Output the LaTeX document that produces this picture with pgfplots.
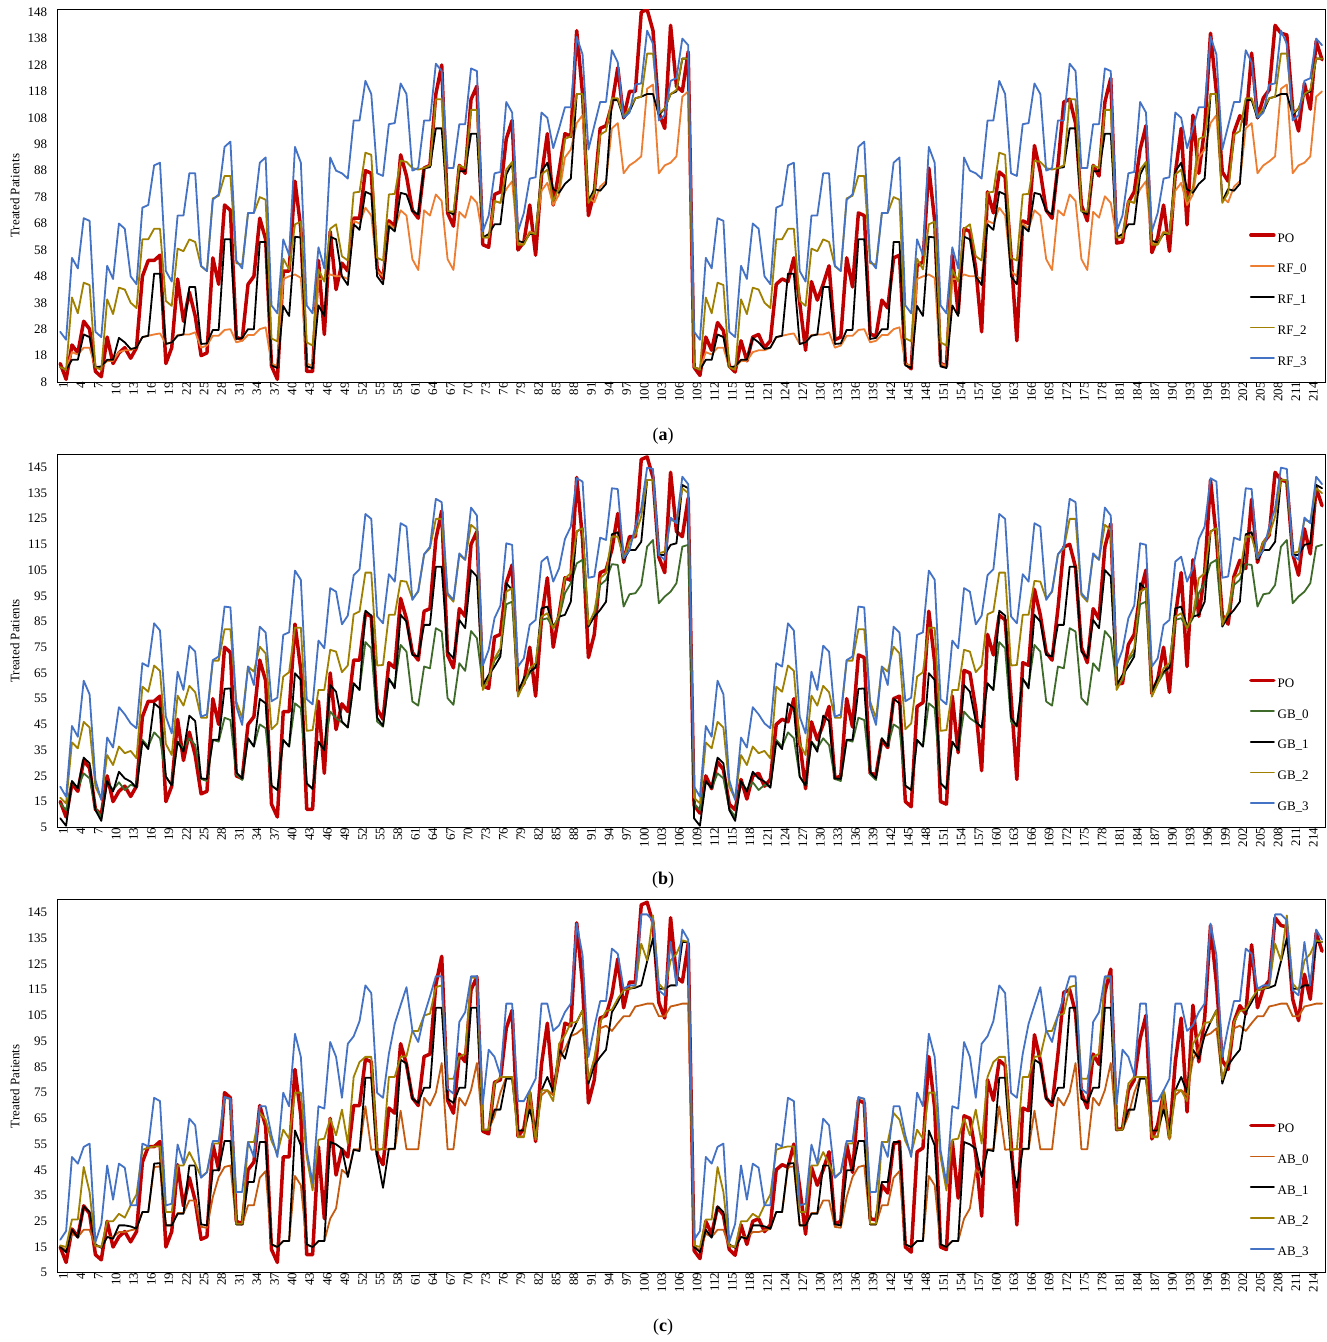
\documentclass[border=0pt]{standalone}
\usepackage{fontspec}
\setmainfont{Liberation Serif}
\usepackage{pgfplots}
\usepackage{pgfplotstable}
\pgfplotsset{compat=1.18}
\definecolor{cPO}{HTML}{C00000}
\definecolor{cOr}{HTML}{ED7D31}
\definecolor{cOl}{HTML}{A08000}
\definecolor{cBl}{HTML}{4472C4}
\definecolor{cGr}{HTML}{3F6B2A}
\definecolor{cBr}{HTML}{C55A11}

\pgfplotstableread[row sep=\\,header=false]{
15\\9\\22\\19\\31\\28\\12\\10\\25\\15\\
19\\21\\17\\21\\48\\54\\54\\56\\15\\21\\
47\\31\\42\\33\\18\\19\\55\\45\\75\\73\\
25\\24\\45\\48\\70\\62\\14\\9\\50\\50\\
84\\66\\12\\12\\54\\26\\65\\43\\53\\50\\
70\\70\\88\\87\\51\\47\\69\\67\\94\\86\\
73\\70\\89\\90\\117\\128\\72\\67\\90\\87\\
115\\120\\60\\59\\79\\80\\100\\107\\58\\61\\
75\\56\\86\\102\\75\\88\\102\\101\\141\\117\\
71\\80\\104\\105\\113\\127\\108\\118\\118\\148\\
149\\141\\110\\104\\143\\120\\118\\133\\
13.6\\10.5\\25\\20\\30.5\\27.4\\14\\11.8\\23.6\\16\\
25\\26\\21\\23.6\\45\\47\\46\\55\\38\\20\\
46\\39\\45\\52\\24\\25\\55\\44\\72\\71\\
26\\25.5\\39\\36\\55\\56\\15\\13\\52\\53.5\\
89\\69\\15\\14\\56\\34\\66\\65\\51\\27\\
80\\72\\87.5\\85.6\\56\\23.6\\69\\68\\97.5\\87.5\\
73\\70\\90\\114\\115\\106\\75\\69\\90\\86\\
114\\123\\60.6\\61\\76\\80\\96\\105\\57\\62.5\\
75\\57.5\\87\\104\\67.5\\109\\87\\104\\140\\117.6\\
87.5\\84\\102.6\\108.8\\105.6\\132.5\\108\\115.5\\118.6\\143\\
140\\139.4\\111.3\\103\\121\\111.3\\137\\130\\
}\dPO

\pgfplotstableread[row sep=\\,header=false]{
13.6\\13\\19.3\\18.4\\21\\21\\13.6\\13.6\\16\\16\\
19.3\\20\\20\\21\\25\\25.5\\26\\26.4\\22.4\\23\\
25.8\\26\\26\\26.8\\21\\21.8\\25.5\\25.5\\27.7\\28\\
23\\23.6\\25.8\\25.8\\28\\28.7\\15\\14\\47\\48\\
48.7\\47.4\\15\\14\\47\\47\\48.7\\48\\48\\47\\
69\\68\\74\\71\\50\\48\\68\\66\\73\\71\\
54.5\\50.4\\73\\71\\79\\76.5\\54.5\\50.4\\72.4\\70.2\\
78.3\\75.8\\62.7\\62.7\\76.5\\75.8\\81\\84\\60\\60.8\\
65\\64\\80.4\\83.4\\75\\79\\93\\96\\106\\109\\
78\\76\\82\\84\\104\\106\\87\\90\\91.5\\93.4\\
119\\120.6\\87\\90\\91\\93.4\\116\\118\\
13.6\\13\\19.3\\18.4\\21\\21\\13.6\\13.6\\16\\16\\
19.3\\20\\20\\21\\25\\25.5\\26\\26.4\\22.4\\23\\
25.8\\26\\26\\26.8\\21\\21.8\\25.5\\25.5\\27.7\\28\\
23\\23.6\\25.8\\25.8\\28\\28.7\\15\\14\\47\\48\\
48.7\\47.4\\15\\14\\47\\47\\48.7\\48\\48\\47\\
69\\68\\74\\71\\50\\48\\68\\66\\73\\71\\
54.5\\50.4\\73\\71\\79\\76.5\\54.5\\50.4\\72.4\\70.2\\
78.3\\75.8\\62.7\\62.7\\76.5\\75.8\\81\\84\\60\\60.8\\
65\\64\\80.4\\83.4\\75\\79\\93\\96\\106\\109\\
78\\76\\82\\84\\104\\106\\87\\90\\91.5\\93.4\\
119\\120.6\\87\\90\\91\\93.4\\116\\118\\
}\dRFa

\pgfplotstableread[row sep=\\,header=false]{
13.6\\12.6\\16.4\\16.4\\26\\25\\13.6\\13.9\\16.4\\16.4\\
24.7\\23\\20.5\\21\\25\\25.5\\49\\49\\22.4\\23\\
25.5\\26\\44\\44\\22.4\\22.6\\27.7\\27.7\\62\\62\\
24.3\\24.7\\28\\28\\61\\61\\14.3\\13.3\\36.8\\33\\
63\\62.7\\13.9\\13.3\\37\\33\\63\\62\\48\\44.7\\
67.7\\65.6\\80\\79\\48\\45\\67\\65\\79.6\\79\\
72.7\\71.4\\89\\89.3\\104\\104\\72.7\\71.4\\87.8\\87.8\\
102\\102\\62.7\\64\\67.7\\67.7\\86.5\\91\\61.4\\60.8\\
64\\64\\87.8\\91\\81\\79.6\\83\\85\\117\\117\\
76.5\\81\\80.4\\83\\114.7\\114.7\\107.8\\110.4\\115.4\\116\\
117\\117\\109\\111.6\\117\\118\\130.4\\130.4\\
13.6\\12.6\\16.4\\16.4\\26\\25\\13.6\\13.9\\16.4\\16.4\\
24.7\\23\\20.5\\21\\25\\25.5\\49\\49\\22.4\\23\\
25.5\\26\\44\\44\\22.4\\22.6\\27.7\\27.7\\62\\62\\
24.3\\24.7\\28\\28\\61\\61\\14.3\\13.3\\36.8\\33\\
63\\62.7\\13.9\\13.3\\37\\33\\63\\62\\48\\44.7\\
67.7\\65.6\\80\\79\\48\\45\\67\\65\\79.6\\79\\
72.7\\71.4\\89\\89.3\\104\\104\\72.7\\71.4\\87.8\\87.8\\
102\\102\\62.7\\64\\67.7\\67.7\\86.5\\91\\61.4\\60.8\\
64\\64\\87.8\\91\\81\\79.6\\83\\85\\117\\117\\
76.5\\81\\80.4\\83\\114.7\\114.7\\107.8\\110.4\\115.4\\116\\
117\\117\\109\\111.6\\117\\118\\130.4\\130.4\\
}\dRFb

\pgfplotstableread[row sep=\\,header=false]{
13.6\\12.6\\40\\34\\45.6\\44.7\\13.6\\12.6\\39.3\\33.7\\
43.7\\43\\38\\36\\62\\62\\66\\66\\38.7\\36.8\\
58.5\\57.5\\62\\61\\51.8\\50\\77.5\\78.5\\86\\86\\
53\\52.4\\72\\72\\78\\77\\24.5\\23.4\\54.7\\50.6\\
67.7\\68.7\\23\\21.8\\50.6\\46\\66\\67.7\\55.6\\54\\
79.7\\80\\94.8\\94\\55\\54\\79\\79.2\\91.8\\91.3\\
89\\88.4\\89\\90\\115\\115\\72.7\\72.4\\90\\89\\
111\\111\\62.7\\62.7\\76.5\\75.8\\88.4\\91.3\\60\\60\\
64.5\\64\\86.5\\88.4\\76.5\\81.5\\100\\101\\117\\117\\
75.8\\79.6\\101.6\\103\\115.4\\115.4\\108.5\\111.6\\115.4\\116\\
132.3\\132.3\\109.7\\111.6\\117\\118.5\\130.4\\130.4\\
13.6\\12.6\\40\\34\\45.6\\44.7\\13.6\\12.6\\39.3\\33.7\\
43.7\\43\\38\\36\\62\\62\\66\\66\\38.7\\36.8\\
58.5\\57.5\\62\\61\\51.8\\50\\77.5\\78.5\\86\\86\\
53\\52.4\\72\\72\\78\\77\\24.5\\23.4\\54.7\\50.6\\
67.7\\68.7\\23\\21.8\\50.6\\46\\66\\67.7\\55.6\\54\\
79.7\\80\\94.8\\94\\55\\54\\79\\79.2\\91.8\\91.3\\
89\\88.4\\89\\90\\115\\115\\72.7\\72.4\\90\\89\\
111\\111\\62.7\\62.7\\76.5\\75.8\\88.4\\91.3\\60\\60\\
64.5\\64\\86.5\\88.4\\76.5\\81.5\\100\\101\\117\\117\\
75.8\\79.6\\101.6\\103\\115.4\\115.4\\108.5\\111.6\\115.4\\116\\
132.3\\132.3\\109.7\\111.6\\117\\118.5\\130.4\\130.4\\
}\dRFc

\pgfplotstableread[row sep=\\,header=false]{
27\\24\\55\\51\\70\\69\\27\\25\\52\\47\\
68\\66\\48\\45\\74\\75\\90\\91\\50\\46\\
71\\71\\87\\87\\52\\50\\77\\79\\97\\99\\
54\\51\\72\\72\\91\\93\\37\\34\\62\\56\\
97\\91\\37\\34\\59\\51\\93\\88\\87\\85\\
107\\107\\122\\117\\87\\86\\105.6\\106\\121\\117\\
88\\89\\107\\107\\128.5\\125.7\\89\\89\\105.6\\105.6\\
126.7\\125.7\\65\\71\\87\\87.5\\114\\110\\65\\72\\
85\\85.5\\110\\108\\96.5\\104\\112\\112\\138.6\\132\\
96\\105\\114\\114\\133.6\\129\\108\\110\\120.6\\121\\
141\\136\\107\\109\\122\\123\\138\\135.5\\
27\\24\\55\\51\\70\\69\\27\\25\\52\\47\\
68\\66\\48\\45\\74\\75\\90\\91\\50\\46\\
71\\71\\87\\87\\52\\50\\77\\79\\97\\99\\
54\\51\\72\\72\\91\\93\\37\\34\\62\\56\\
97\\91\\37\\34\\59\\51\\93\\88\\87\\85\\
107\\107\\122\\117\\87\\86\\105.6\\106\\121\\117\\
88\\89\\107\\107\\128.5\\125.7\\89\\89\\105.6\\105.6\\
126.7\\125.7\\65\\71\\87\\87.5\\114\\110\\65\\72\\
85\\85.5\\110\\108\\96.5\\104\\112\\112\\138.6\\132\\
96\\105\\114\\114\\133.6\\129\\108\\110\\120.6\\121\\
141\\136\\107\\109\\122\\123\\138\\135.5\\
}\dRFd

\pgfplotstableread[row sep=\\,header=false]{
14.3\\11.7\\22.8\\20.2\\26\\24\\12.4\\9.1\\22.8\\19.5\\
22.5\\19.5\\21.5\\20.8\\39\\36.4\\41.9\\39.6\\24.7\\21.5\\
38.3\\35.7\\39.6\\37\\23.8\\23\\39\\38.3\\47.6\\46.7\\
25.6\\23.4\\39.6\\36.4\\45\\43.5\\21.2\\19.5\\39\\36.4\\
53.2\\51.3\\22.1\\19.9\\38.3\\35\\50\\47.4\\45.8\\43.8\\
61\\58.4\\77\\74.6\\46.1\\44.1\\62.3\\60.3\\75.9\\73.3\\
53.9\\52.3\\67.5\\66.8\\82.4\\81.1\\55.2\\52.6\\68.8\\65.8\\
81.3\\78.5\\60.3\\62.3\\70\\72.6\\91.7\\92.7\\56.7\\61\\
64.9\\67.5\\85.6\\86.3\\82.4\\86.3\\96\\99.9\\107.6\\109\\
83.7\\86.9\\99.2\\101.2\\107.3\\107\\90.8\\95.6\\96\\99.2\\
114.1\\116.7\\92.1\\94.7\\96.6\\99.9\\114.1\\114.8\\
14.3\\11.7\\22.8\\20.2\\26\\24\\12.4\\9.1\\22.8\\19.5\\
22.5\\19.5\\21.5\\20.8\\39\\36.4\\41.9\\39.6\\24.7\\21.5\\
38.3\\35.7\\39.6\\37\\23.8\\23\\39\\38.3\\47.6\\46.7\\
25.6\\23.4\\39.6\\36.4\\45\\43.5\\21.2\\19.5\\39\\36.4\\
53.2\\51.3\\22.1\\19.9\\38.3\\35\\50\\47.4\\45.8\\43.8\\
61\\58.4\\77\\74.6\\46.1\\44.1\\62.3\\60.3\\75.9\\73.3\\
53.9\\52.3\\67.5\\66.8\\82.4\\81.1\\55.2\\52.6\\68.8\\65.8\\
81.3\\78.5\\60.3\\62.3\\70\\72.6\\91.7\\92.7\\56.7\\61\\
64.9\\67.5\\85.6\\86.3\\82.4\\86.3\\96\\99.9\\107.6\\109\\
83.7\\86.9\\99.2\\101.2\\107.3\\107\\90.8\\95.6\\96\\99.2\\
114.1\\116.7\\92.1\\94.7\\96.6\\99.9\\114.1\\114.8\\
}\dGBa

\pgfplotstableread[row sep=\\,header=false]{
8.5\\5.6\\23\\20.2\\32.1\\29.9\\11.7\\7.5\\23\\18.9\\
26.6\\24\\22.8\\20.4\\38.3\\35.4\\53.2\\51.3\\24.7\\21.2\\
38.3\\34.4\\48.4\\46.3\\24\\23.8\\39\\39\\58.8\\59\\
26.4\\24\\39.6\\36.4\\54.9\\53.2\\21.2\\19.5\\39\\36.4\\
64.9\\62.3\\22.1\\19.9\\38.3\\35\\60.3\\57.7\\46.1\\43.8\\
61\\58.4\\89.2\\87.3\\47.6\\44.4\\62.9\\59\\87.6\\85\\
72\\71.4\\83.7\\83.7\\106.3\\106.3\\73.3\\70.7\\85.6\\82.4\\
105\\102.5\\60.3\\64.2\\67.5\\71.4\\99.9\\97.3\\57.7\\62.9\\
65.5\\67.1\\90.1\\90.8\\83\\86.9\\87.6\\92.7\\120\\121.3\\
83\\86.9\\89.5\\92.7\\118.9\\119.7\\109\\112.8\\112.8\\116\\
140\\140\\110.9\\110.9\\114.8\\115.4\\138.1\\136.8\\
8.5\\5.6\\23\\20.2\\32.1\\29.9\\11.7\\7.5\\23\\18.9\\
26.6\\24\\22.8\\20.4\\38.3\\35.4\\53.2\\51.3\\24.7\\21.2\\
38.3\\34.4\\48.4\\46.3\\24\\23.8\\39\\39\\58.8\\59\\
26.4\\24\\39.6\\36.4\\54.9\\53.2\\21.2\\19.5\\39\\36.4\\
64.9\\62.3\\22.1\\19.9\\38.3\\35\\60.3\\57.7\\46.1\\43.8\\
61\\58.4\\89.2\\87.3\\47.6\\44.4\\62.9\\59\\87.6\\85\\
72\\71.4\\83.7\\83.7\\106.3\\106.3\\73.3\\70.7\\85.6\\82.4\\
105\\102.5\\60.3\\64.2\\67.5\\71.4\\99.9\\97.3\\57.7\\62.9\\
65.5\\67.1\\90.1\\90.8\\83\\86.9\\87.6\\92.7\\120\\121.3\\
83\\86.9\\89.5\\92.7\\118.9\\119.7\\109\\112.8\\112.8\\116\\
140\\140\\110.9\\110.9\\114.8\\115.4\\138.1\\136.8\\
}\dGBb

\pgfplotstableread[row sep=\\,header=false]{
16.5\\14.3\\38\\35.7\\46\\43.8\\20.8\\16\\33.1\\29.2\\
36.4\\33.8\\34.7\\31.8\\59.7\\57.7\\67.9\\65.8\\37.4\\33.1\\
56.2\\52.3\\60\\57.5\\47.6\\47.6\\69.8\\69.8\\82\\82\\
53.9\\47.4\\67.5\\65.5\\75.2\\72.6\\43.1\\45.4\\63.6\\65.3\\
82.6\\82.6\\42.5\\42.8\\58.4\\58.4\\74\\73.3\\65.3\\67.9\\
87.8\\88.9\\104\\104\\67.9\\68.1\\87.6\\87.6\\100.8\\100.5\\
93.8\\96.6\\111.1\\113.5\\124.9\\124.9\\95.3\\92.7\\110.9\\109\\
122.6\\120.6\\58.4\\62.9\\70.7\\74.6\\96.6\\97.9\\55.8\\61\\
66.8\\68.8\\86.9\\88.2\\82.4\\87.6\\101.8\\103.8\\120\\121.3\\
83.7\\88.9\\101.8\\103.8\\118\\118\\109.6\\116\\118.7\\125.8\\
140\\140\\111.5\\112.2\\124.5\\123.8\\136.8\\134.9\\
16.5\\14.3\\38\\35.7\\46\\43.8\\20.8\\16\\33.1\\29.2\\
36.4\\33.8\\34.7\\31.8\\59.7\\57.7\\67.9\\65.8\\37.4\\33.1\\
56.2\\52.3\\60\\57.5\\47.6\\47.6\\69.8\\69.8\\82\\82\\
53.9\\47.4\\67.5\\65.5\\75.2\\72.6\\43.1\\45.4\\63.6\\65.3\\
82.6\\82.6\\42.5\\42.8\\58.4\\58.4\\74\\73.3\\65.3\\67.9\\
87.8\\88.9\\104\\104\\67.9\\68.1\\87.6\\87.6\\100.8\\100.5\\
93.8\\96.6\\111.1\\113.5\\124.9\\124.9\\95.3\\92.7\\110.9\\109\\
122.6\\120.6\\58.4\\62.9\\70.7\\74.6\\96.6\\97.9\\55.8\\61\\
66.8\\68.8\\86.9\\88.2\\82.4\\87.6\\101.8\\103.8\\120\\121.3\\
83.7\\88.9\\101.8\\103.8\\118\\118\\109.6\\116\\118.7\\125.8\\
140\\140\\111.5\\112.2\\124.5\\123.8\\136.8\\134.9\\
}\dGBc

\pgfplotstableread[row sep=\\,header=false]{
20.8\\16.9\\44.4\\40.2\\62\\56.7\\23.4\\15.6\\39.9\\36\\
51.7\\48.9\\45.4\\43.5\\68.8\\67.5\\84.3\\81.5\\48\\41.5\\
65.5\\58.4\\75.6\\73.3\\48\\48.9\\70\\71.4\\90.8\\90.5\\
52\\44.8\\67.5\\60.3\\83\\80.7\\54\\55.4\\79.8\\80.8\\
104.8\\101.2\\54.8\\52.8\\77.6\\74.6\\98\\96.6\\83.9\\87.3\\
103\\105.3\\126.8\\124.9\\87\\84.3\\103.4\\100.5\\123.2\\121.9\\
93.4\\96.9\\111.1\\114.1\\132.7\\131.4\\96\\93.4\\111.5\\109\\
129.3\\126.2\\67.9\\74\\86.3\\91.2\\115.4\\114.8\\67.5\\70.7\\
83.7\\85.6\\108.3\\110.2\\100.5\\105.7\\117.1\\121.9\\140.7\\139.4\\
102\\102.5\\117.6\\116.7\\136.8\\136.5\\109.6\\112.8\\121.9\\129\\
144.8\\144.3\\110.9\\109\\125.4\\123.2\\141.3\\138.4\\
20.8\\16.9\\44.4\\40.2\\62\\56.7\\23.4\\15.6\\39.9\\36\\
51.7\\48.9\\45.4\\43.5\\68.8\\67.5\\84.3\\81.5\\48\\41.5\\
65.5\\58.4\\75.6\\73.3\\48\\48.9\\70\\71.4\\90.8\\90.5\\
52\\44.8\\67.5\\60.3\\83\\80.7\\54\\55.4\\79.8\\80.8\\
104.8\\101.2\\54.8\\52.8\\77.6\\74.6\\98\\96.6\\83.9\\87.3\\
103\\105.3\\126.8\\124.9\\87\\84.3\\103.4\\100.5\\123.2\\121.9\\
93.4\\96.9\\111.1\\114.1\\132.7\\131.4\\96\\93.4\\111.5\\109\\
129.3\\126.2\\67.9\\74\\86.3\\91.2\\115.4\\114.8\\67.5\\70.7\\
83.7\\85.6\\108.3\\110.2\\100.5\\105.7\\117.1\\121.9\\140.7\\139.4\\
102\\102.5\\117.6\\116.7\\136.8\\136.5\\109.6\\112.8\\121.9\\129\\
144.8\\144.3\\110.9\\109\\125.4\\123.2\\141.3\\138.4\\
}\dGBd

\pgfplotstableread[row sep=\\,header=false]{
15.2\\13.7\\20.2\\18.9\\21.7\\21.7\\15.2\\15.2\\18.9\\18.9\\
20.8\\20.8\\21.5\\22\\28.6\\28.6\\46.1\\46.3\\23.4\\23.4\\
28.2\\28.2\\33.1\\33.1\\22.8\\22.5\\34.4\\42.2\\46.1\\46.7\\
23.8\\23.8\\31.2\\31.2\\41.9\\44.5\\16\\15\\17.3\\17.3\\
42.6\\39\\16\\15\\17.3\\17.3\\26\\30\\45\\43\\
53\\53\\69.7\\52.8\\53\\53\\53\\53\\68\\53\\
53\\53\\73\\70\\75\\86.5\\53\\53\\73\\70\\
76\\86.5\\60.6\\60.6\\66\\75\\81\\81\\58\\58\\
70\\58\\74\\76\\74\\88\\92\\97\\98\\100\\
80\\88\\100\\101\\99\\102\\104.7\\104.7\\108.5\\109\\
109.6\\109.6\\104.7\\104.7\\108.5\\109\\109.6\\109.6\\
15.2\\13.7\\20.2\\18.9\\21.7\\21.7\\15.2\\15.2\\18.9\\18.9\\
20.8\\20.8\\21.5\\22\\28.6\\28.6\\46.1\\46.3\\23.4\\23.4\\
28.2\\28.2\\33.1\\33.1\\22.8\\22.5\\34.4\\42.2\\46.1\\46.7\\
23.8\\23.8\\31.2\\31.2\\41.9\\44.5\\16\\15\\17.3\\17.3\\
42.6\\39\\16\\15\\17.3\\17.3\\26\\30\\45\\43\\
53\\53\\69.7\\52.8\\53\\53\\53\\53\\68\\53\\
53\\53\\73\\70\\75\\86.5\\53\\53\\73\\70\\
76\\86.5\\60.6\\60.6\\66\\75\\81\\81\\58\\58\\
70\\58\\74\\76\\74\\88\\92\\97\\98\\100\\
80\\88\\100\\101\\99\\102\\104.7\\104.7\\108.5\\109\\
109.6\\109.6\\104.7\\104.7\\108.5\\109\\109.6\\109.6\\
}\dABa

\pgfplotstableread[row sep=\\,header=false]{
15\\13\\21.7\\18.6\\30.8\\28.6\\16\\14.7\\18.9\\18.2\\
23.4\\23.4\\23\\22.1\\28.6\\28.6\\47.4\\47.6\\23.4\\23.4\\
27.9\\27.9\\46.7\\46.7\\23.8\\23.4\\44.8\\44.8\\56.2\\56.2\\
23.8\\23.8\\40.3\\40.3\\55.8\\55.8\\16\\15\\17.3\\17.3\\
60.3\\54.5\\16\\15\\17.3\\17.3\\55.8\\54.9\\53.2\\42.2\\
52.8\\52.3\\80.8\\80.8\\50\\38\\53.2\\53.2\\87.8\\86.3\\
72.6\\71\\76.9\\76.9\\108\\108\\72.6\\71\\76.9\\76.9\\
108\\108\\60.6\\60.6\\68.4\\68.4\\80.4\\80.4\\60.3\\60.3\\
68.4\\60.3\\75.9\\81.1\\75.2\\91.7\\88.2\\97.3\\102.5\\107\\
78.5\\85.6\\88.9\\91.7\\106.3\\110.2\\114.8\\115.4\\115.8\\116.7\\
126\\135\\115.4\\115.4\\116.7\\116.7\\133.6\\133.6\\
15\\13\\21.7\\18.6\\30.8\\28.6\\16\\14.7\\18.9\\18.2\\
23.4\\23.4\\23\\22.1\\28.6\\28.6\\47.4\\47.6\\23.4\\23.4\\
27.9\\27.9\\46.7\\46.7\\23.8\\23.4\\44.8\\44.8\\56.2\\56.2\\
23.8\\23.8\\40.3\\40.3\\55.8\\55.8\\16\\15\\17.3\\17.3\\
60.3\\54.5\\16\\15\\17.3\\17.3\\55.8\\54.9\\53.2\\42.2\\
52.8\\52.3\\80.8\\80.8\\50\\38\\53.2\\53.2\\87.8\\86.3\\
72.6\\71\\76.9\\76.9\\108\\108\\72.6\\71\\76.9\\76.9\\
108\\108\\60.6\\60.6\\68.4\\68.4\\80.4\\80.4\\60.3\\60.3\\
68.4\\60.3\\75.9\\81.1\\75.2\\91.7\\88.2\\97.3\\102.5\\107\\
78.5\\85.6\\88.9\\91.7\\106.3\\110.2\\114.8\\115.4\\115.8\\116.7\\
126\\135\\115.4\\115.4\\116.7\\116.7\\133.6\\133.6\\
}\dABb

\pgfplotstableread[row sep=\\,header=false]{
15.6\\15\\25.7\\25.7\\46.1\\36.4\\15.6\\15\\25\\25\\
27.9\\26.4\\31.2\\35.4\\52.8\\53.6\\54.1\\54.1\\28.6\\28.6\\
46.7\\46.7\\51.9\\47.4\\42.2\\44.1\\55.2\\55.2\\73\\72.6\\
24\\24\\55.8\\55.8\\67.1\\64.5\\56.2\\51.3\\60.6\\57.1\\
75\\75\\50\\37\\56.7\\57.1\\64.9\\58.4\\68.4\\55.2\\
81.1\\86.9\\88.9\\88.9\\52.6\\53.2\\81.1\\81.1\\88.9\\89.2\\
99\\99\\105\\105.7\\116\\116.7\\80.4\\80.4\\88.9\\90.1\\
119.7\\119.7\\60.6\\60.6\\78.5\\81.1\\81.1\\81.1\\57.7\\57.7\\
75.9\\56.7\\75.9\\75.9\\71.7\\94\\97.3\\102.1\\102.5\\107\\
80\\88.2\\102.5\\106.7\\107.3\\111.5\\114.8\\115.4\\116.3\\132.9\\
126.4\\143.9\\117.4\\114.8\\126.4\\129\\134.2\\133.6\\
15.6\\15\\25.7\\25.7\\46.1\\36.4\\15.6\\15\\25\\25\\
27.9\\26.4\\31.2\\35.4\\52.8\\53.6\\54.1\\54.1\\28.6\\28.6\\
46.7\\46.7\\51.9\\47.4\\42.2\\44.1\\55.2\\55.2\\73\\72.6\\
24\\24\\55.8\\55.8\\67.1\\64.5\\56.2\\51.3\\60.6\\57.1\\
75\\75\\50\\37\\56.7\\57.1\\64.9\\58.4\\68.4\\55.2\\
81.1\\86.9\\88.9\\88.9\\52.6\\53.2\\81.1\\81.1\\88.9\\89.2\\
99\\99\\105\\105.7\\116\\116.7\\80.4\\80.4\\88.9\\90.1\\
119.7\\119.7\\60.6\\60.6\\78.5\\81.1\\81.1\\81.1\\57.7\\57.7\\
75.9\\56.7\\75.9\\75.9\\71.7\\94\\97.3\\102.1\\102.5\\107\\
80\\88.2\\102.5\\106.7\\107.3\\111.5\\114.8\\115.4\\116.3\\132.9\\
126.4\\143.9\\117.4\\114.8\\126.4\\129\\134.2\\133.6\\
}\dABc

\pgfplotstableread[row sep=\\,header=false]{
17.8\\21.2\\50\\47.4\\53.9\\55.2\\16.9\\24\\46.7\\33.4\\
47.4\\45.8\\31.2\\31.2\\55.2\\54.1\\73\\71.7\\31.2\\31.8\\
54.8\\47.4\\64.9\\62.3\\41.9\\44.1\\56.2\\56.2\\73.3\\72.6\\
36.4\\36.4\\55.8\\50\\69.7\\69.7\\58.4\\50\\75\\69.7\\
97.9\\88.9\\52.6\\39.9\\69.7\\68.8\\94.7\\88.9\\73\\94\\
96.9\\102.8\\116.7\\113.7\\74.9\\73\\90.1\\101.8\\109\\116\\
99.2\\94.7\\105\\112.4\\120.2\\120.2\\76.5\\74.6\\102.5\\106.3\\
120.2\\120.2\\70.7\\91.7\\88.9\\81.7\\109.6\\109.6\\71.7\\71.7\\
75.9\\80.4\\109.6\\109.6\\99\\101.2\\106.3\\109.6\\140.7\\128.4\\
88.9\\100.5\\110.6\\110.6\\131\\129\\115.4\\116.7\\116.7\\144.3\\
144.3\\142\\114.8\\112.8\\133.6\\116.7\\138.4\\134.5\\
17.8\\21.2\\50\\47.4\\53.9\\55.2\\16.9\\24\\46.7\\33.4\\
47.4\\45.8\\31.2\\31.2\\55.2\\54.1\\73\\71.7\\31.2\\31.8\\
54.8\\47.4\\64.9\\62.3\\41.9\\44.1\\56.2\\56.2\\73.3\\72.6\\
36.4\\36.4\\55.8\\50\\69.7\\69.7\\58.4\\50\\75\\69.7\\
97.9\\88.9\\52.6\\39.9\\69.7\\68.8\\94.7\\88.9\\73\\94\\
96.9\\102.8\\116.7\\113.7\\74.9\\73\\90.1\\101.8\\109\\116\\
99.2\\94.7\\105\\112.4\\120.2\\120.2\\76.5\\74.6\\102.5\\106.3\\
120.2\\120.2\\70.7\\91.7\\88.9\\81.7\\109.6\\109.6\\71.7\\71.7\\
75.9\\80.4\\109.6\\109.6\\99\\101.2\\106.3\\109.6\\140.7\\128.4\\
88.9\\100.5\\110.6\\110.6\\131\\129\\115.4\\116.7\\116.7\\144.3\\
144.3\\142\\114.8\\112.8\\133.6\\116.7\\138.4\\134.5\\
}\dABd

\pgfplotsset{
  panel/.style={
    scale only axis, width=1267.7pt,
    xmin=0.5, xmax=216.5,
    xtick={1,4,...,214},
    axis line style={black, line width=0.9pt},
    tick style={draw=none},
    major tick length=0pt,
    /pgf/number format/assume math mode=true,
    ticklabel style={font=\fontsize{13}{13}\selectfont},
    xticklabel style={rotate=90, anchor=east, inner sep=0pt, yshift=-3pt},
    yticklabel style={anchor=east, inner sep=0pt, xshift=-10pt},
    every axis y label/.style={at={(axis description cs:-0.0334,0.5)}, rotate=90, anchor=center, font=\fontsize{13}{13}\selectfont},
    ylabel={Treated Patients},
    legend style={at={(axis description cs:0.940,0.400)}, anchor=north west, draw=none, fill=none, inner sep=0pt, font=\fontsize{13}{13}\selectfont, row sep=18.75pt, column sep=2pt, nodes={inner sep=0pt, text height=9pt, text depth=3pt}},
    legend cell align=left,
    legend image code/.code={\draw[##1] (0pt,4pt) -- (23pt,4pt);},
    every axis plot/.append style={line join=round, line cap=round},
  },
  po/.style={cPO, line width=3.5pt},
  ml/.style={#1, line width=1.8pt},
}

\begin{document}
\begin{tikzpicture}
% (a)
\begin{axis}[panel, at={(57.3pt,-382pt)}, anchor=south west, height=372.5pt,
  ymin=8, ymax=149, ytick={8,18,...,148}]
\addplot[po] table[x expr=\coordindex+1, y index=0]{\dPO};
\addplot[ml=cOr] table[x expr=\coordindex+1, y index=0]{\dRFa};
\addplot[ml=black] table[x expr=\coordindex+1, y index=0]{\dRFb};
\addplot[ml=cOl] table[x expr=\coordindex+1, y index=0]{\dRFc};
\addplot[ml=cBl] table[x expr=\coordindex+1, y index=0]{\dRFd};
\legend{PO,RF\_0,RF\_1,RF\_2,RF\_3}
\end{axis}
% (b)
\begin{axis}[panel, at={(57.3pt,-827.3pt)}, anchor=south west, height=373pt,
  ymin=5, ymax=150, ytick={5,15,...,145}]
\addplot[po] table[x expr=\coordindex+1, y index=0]{\dPO};
\addplot[ml=cGr] table[x expr=\coordindex+1, y index=0]{\dGBa};
\addplot[ml=black] table[x expr=\coordindex+1, y index=0]{\dGBb};
\addplot[ml=cOl] table[x expr=\coordindex+1, y index=0]{\dGBc};
\addplot[ml=cBl] table[x expr=\coordindex+1, y index=0]{\dGBd};
\legend{PO,GB\_0,GB\_1,GB\_2,GB\_3}
\end{axis}
% (c)
\begin{axis}[panel, at={(57.3pt,-1272.7pt)}, anchor=south west, height=373pt,
  ymin=5, ymax=150, ytick={5,15,...,145}]
\addplot[po] table[x expr=\coordindex+1, y index=0]{\dPO};
\addplot[ml=cBr] table[x expr=\coordindex+1, y index=0]{\dABa};
\addplot[ml=black] table[x expr=\coordindex+1, y index=0]{\dABb};
\addplot[ml=cOl] table[x expr=\coordindex+1, y index=0]{\dABc};
\addplot[ml=cBl] table[x expr=\coordindex+1, y index=0]{\dABd};
\legend{PO,AB\_0,AB\_1,AB\_2,AB\_3}
\end{axis}
\node[font=\fontsize{18}{18}\selectfont] at (663pt,-436pt) {(\textbf{a})};
\node[font=\fontsize{18}{18}\selectfont] at (663pt,-880pt) {(\textbf{b})};
\node[font=\fontsize{18}{18}\selectfont] at (663pt,-1327pt) {(\textbf{c})};
\pgfresetboundingbox
\path[use as bounding box] (0pt,0pt) rectangle (1326pt,-1342pt);
\end{tikzpicture}
\end{document}
